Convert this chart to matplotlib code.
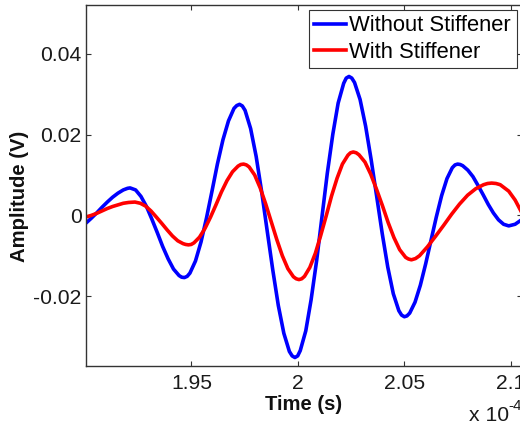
import matplotlib
matplotlib.use("Agg")
import matplotlib.pyplot as plt

# time in units of 1e-4 s
blue_time = [1.9005, 1.9030, 1.9055, 1.9080, 1.9105, 1.9130, 1.9155, 1.9180, 1.9200, 1.9212,
             1.9238, 1.9263, 1.9289, 1.9314, 1.9340, 1.9365, 1.9391, 1.9416, 1.9442, 1.9454, 1.9467,
             1.9480, 1.9493, 1.9519, 1.9545, 1.9571, 1.9597, 1.9622, 1.9648, 1.9674, 1.9700, 1.9713, 1.9726,
             1.9739, 1.9752, 1.9778, 1.9804, 1.9830, 1.9856, 1.9882, 1.9908, 1.9934, 1.9960, 1.9973, 1.9986,
             1.9999, 2.0011, 2.0037, 2.0062, 2.0088, 2.0113, 2.0138, 2.0164, 2.0189, 2.0215, 2.0227, 2.0240,
             2.0253, 2.0266, 2.0292, 2.0318, 2.0344, 2.0370, 2.0396, 2.0422, 2.0448, 2.0474, 2.0487, 2.0500,
             2.0512, 2.0525, 2.0550, 2.0575, 2.0600, 2.0625, 2.0650, 2.0675, 2.0700, 2.0725, 2.0738, 2.0750,
             2.0762, 2.0774, 2.0798, 2.0822, 2.0846, 2.0870, 2.0894, 2.0918, 2.0942, 2.0966, 2.0990,
             2.1020, 2.1050]
without_stiffener = [-0.0019, -0.0007, 0.0006, 0.0020, 0.0033, 0.0045, 0.0055, 0.0063, 0.0067, 0.0068,
                     0.0063, 0.0047, 0.0022, -0.0009, -0.0043, -0.0077, -0.0108, -0.0133, -0.0149, -0.0153, -0.0154,
                     -0.0151, -0.0143, -0.0113, -0.0066, -0.0006, 0.0061, 0.0127, 0.0187, 0.0234, 0.0265, 0.0272, 0.0275,
                     0.0271, 0.0260, 0.0215, 0.0146, 0.0058, -0.0039, -0.0135, -0.0223, -0.0292, -0.0337, -0.0348, -0.0352,
                     -0.0348, -0.0335, -0.0286, -0.0209, -0.0112, -0.0004, 0.0104, 0.0201, 0.0278, 0.0327, 0.0340, 0.0344,
                     0.0340, 0.0329, 0.0287, 0.0221, 0.0138, 0.0047, -0.0045, -0.0128, -0.0194, -0.0236, -0.0247, -0.0251,
                     -0.0249, -0.0242, -0.0215, -0.0173, -0.0120, -0.0062, -0.0004, 0.0049, 0.0091, 0.0118, 0.0125, 0.0127,
                     0.0126, 0.0123, 0.0112, 0.0096, 0.0074, 0.0051, 0.0027, 0.0006, -0.0011, -0.0022, -0.0026,
                     -0.0022, -0.0011]

red_time = [1.9005, 1.9030, 1.9055, 1.9080, 1.9105, 1.9130, 1.9155, 1.9180, 1.9205, 1.9235,
            1.9260, 1.9285, 1.9310, 1.9335, 1.9361, 1.9386, 1.9411, 1.9436, 1.9461, 1.9473, 1.9486,
            1.9499, 1.9512, 1.9538, 1.9564, 1.9590, 1.9616, 1.9641, 1.9667, 1.9693, 1.9719, 1.9732, 1.9745,
            1.9758, 1.9771, 1.9797, 1.9823, 1.9849, 1.9875, 1.9901, 1.9927, 1.9953, 1.9979, 1.9992, 2.0005,
            2.0018, 2.0031, 2.0056, 2.0082, 2.0107, 2.0133, 2.0158, 2.0184, 2.0209, 2.0235, 2.0247, 2.0260,
            2.0274, 2.0287, 2.0315, 2.0342, 2.0369, 2.0397, 2.0424, 2.0451, 2.0478, 2.0506, 2.0519, 2.0533,
            2.0552, 2.0571, 2.0608, 2.0646, 2.0684, 2.0722, 2.0759, 2.0797, 2.0835, 2.0872, 2.0891, 2.0910,
            2.0930, 2.0950, 2.0990, 2.1020, 2.1050]
with_stiffener = [-0.0004, 0.0000, 0.0005, 0.0011, 0.0017, 0.0022, 0.0026, 0.0030, 0.0032, 0.0033,
                  0.0030, 0.0023, 0.0011, -0.0004, -0.0020, -0.0036, -0.0051, -0.0063, -0.0070, -0.0072, -0.0073,
                  -0.0072, -0.0068, -0.0054, -0.0032, -0.0004, 0.0027, 0.0058, 0.0086, 0.0108, 0.0122, 0.0126, 0.0127,
                  0.0125, 0.0120, 0.0100, 0.0068, 0.0028, -0.0016, -0.0060, -0.0100, -0.0132, -0.0152, -0.0157, -0.0159,
                  -0.0157, -0.0151, -0.0129, -0.0094, -0.0050, -0.0001, 0.0048, 0.0092, 0.0127, 0.0149, 0.0155, 0.0157,
                  0.0155, 0.0150, 0.0132, 0.0102, 0.0065, 0.0024, -0.0018, -0.0055, -0.0085, -0.0104, -0.0108, -0.0110,
                  -0.0107, -0.0100, -0.0078, -0.0052, -0.0025, 0.0003, 0.0028, 0.0050, 0.0066, 0.0076, 0.0079, 0.0080,
                  0.0079, 0.0076, 0.0060, 0.0038, 0.0008]

x_ticks = [1.95, 2.0, 2.05, 2.1]
x_tick_labels = ["1.95", "2", "2.05", "2.1"]
y_ticks = [-0.02, 0.0, 0.02, 0.04]
y_tick_labels = ["-0.02", "0", "0.02", "0.04"]
series_labels = ["Without Stiffener", "With Stiffener"]

plt.rcParams["font.family"] = ["Liberation Sans", "DejaVu Sans"]

W, H = 520, 425
fig = plt.figure(figsize=(W / 100, H / 100), dpi=100)
ax = fig.add_axes([86 / W, 1 - 366 / H, (521.5 - 86) / W, (366 - 5) / H])

ax.plot(blue_time, without_stiffener, color="#0000ff", lw=2.6, label=series_labels[0])
ax.plot(red_time, with_stiffener, color="#ff0000", lw=2.6, label=series_labels[1])

ax.set_xlim(1.9005, 2.105)
ax.set_ylim(-0.0373, 0.0521)
ax.set_xticks(x_ticks)
ax.set_xticklabels(x_tick_labels)
ax.set_yticks(y_ticks)
ax.set_yticklabels(y_tick_labels)

edge = "#333333"
for s in ax.spines.values():
    s.set_color(edge)
    s.set_linewidth(1.0)
ax.tick_params(direction="in", length=3.6, width=0.8, top=True, right=True,
               labelsize=15.2, colors=edge, labelcolor="#1a1a1a")
ax.tick_params(axis="x", pad=6.0)
ax.tick_params(axis="y", pad=3.0)

ax.set_xlabel("Time (s)", fontsize=14.6, fontweight="bold", color="#111111")
ax.xaxis.set_label_coords(0.5, -0.08)
ax.set_ylabel("Amplitude (V)", fontsize=14.6, fontweight="bold", color="#111111")
ax.yaxis.set_label_coords(-0.131, 0.4695)

leg = ax.legend(loc="upper right", bbox_to_anchor=(516.5 / W, 1 - 10 / H),
                bbox_transform=fig.transFigure, borderaxespad=0, fontsize=15.8,
                fancybox=False, edgecolor=edge, framealpha=1, handlelength=1.46,
                handletextpad=0.15, labelspacing=0.25, borderpad=0.25)
leg.get_frame().set_linewidth(0.8)

fig.text(469 / W, 1 - 421 / H, "x 10", fontsize=15.2, ha="left", va="baseline", color="#1a1a1a")
fig.text(508 / W, 1 - 410 / H, "-4", fontsize=11, ha="left", va="baseline", color="#1a1a1a")

fig.savefig("out.png", dpi=100)
